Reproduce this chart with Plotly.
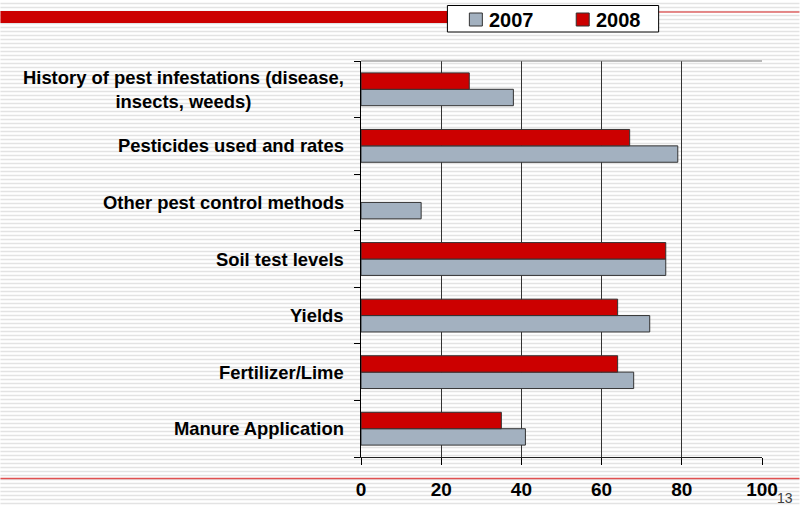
import plotly.graph_objects as go

# ---- data (bottom to top) ----
categories = [
    "Manure Application",
    "Fertilizer/Lime",
    "Yields",
    "Soil test levels",
    "Other pest control methods",
    "Pesticides used and rates",
    "History of pest infestations (disease,<br>insects, weeds)",
]
values_2007 = [41, 68, 72, 76, 15, 79, 38]
values_2008 = [35, 64, 64, 76, None, 67, 27]
series_names = ["2007", "2008"]
series_colors = ["#a3b1c0", "#cc0000"]
x_ticks = [0, 20, 40, 60, 80, 100]
page_number = "13"

W, H = 800, 507
L, R, T, B = 361, 37.5, 61, 50
plot_h = H - T - B


def py(ypx):
    """pixel row -> paper y"""
    return 1 + (T - ypx) / plot_h


def px(xpx):
    return (xpx - L) / (W - L - R)


FONT = "Liberation Sans, Arial, sans-serif"

fig = go.Figure()
for name, vals, col in zip(series_names, [values_2007, values_2008], series_colors):
    fig.add_trace(go.Bar(
        y=categories, x=vals, name=name, orientation="h",
        marker=dict(color=col, line=dict(color="#333333", width=1)),
    ))

# background stripes (slide template)
path = " ".join(
    f"M{px(0)},{py(y + 0.5)} L{px(W)},{py(y + 0.5)}" for y in range(3, H, 4)
)
shapes = [
    dict(type="path", xref="paper", yref="paper", path=path,
         line=dict(color="#e3e3e3", width=1.3), layer="below"),
    # thick red bar at top
    dict(type="rect", xref="paper", yref="paper",
         x0=px(0), x1=px(448), y0=py(23), y1=py(11),
         fillcolor="#cc0000", line=dict(width=0), layer="above"),
    # thin red line top right
    dict(type="line", xref="paper", yref="paper",
         x0=px(447), x1=px(W), y0=py(12), y1=py(12),
         line=dict(color="#e06666", width=1.3), layer="above"),
    # thin red line bottom
    dict(type="line", xref="paper", yref="paper",
         x0=px(0), x1=px(W), y0=py(478.5), y1=py(478.5),
         line=dict(color="#e05050", width=1.3), layer="above"),
    # top border of plot area (grey)
    dict(type="line", xref="paper", yref="paper",
         x0=0, x1=1, y0=1, y1=1,
         line=dict(color="#777777", width=1), layer="above"),
    # legend box
    dict(type="rect", xref="paper", yref="paper",
         x0=px(447.5), x1=px(659), y0=py(32), y1=py(5.5),
         fillcolor="#ffffff", line=dict(color="#000000", width=1), layer="above"),
]

annotations = [
    dict(x=0, y=c, xref="paper", yref="y", text=f"<b>{c}</b>",
         xanchor="right", yanchor="middle", align="center", xshift=-15,
         showarrow=False, font=dict(family=FONT, size=18.4, color="#000000"))
    for c in categories
]
annotations.append(dict(
    x=px(795), y=py(498), xref="paper", yref="paper", text=page_number,
    xanchor="right", yanchor="middle", showarrow=False, borderpad=0,
    font=dict(family=FONT, size=14, color="#404040")))

# legend built from the series lists
legend_sq_x = [469.5, 576.5]
for name, col, sx in zip(series_names, series_colors, legend_sq_x):
    shapes.append(dict(type="rect", xref="paper", yref="paper",
                       x0=px(sx), x1=px(sx + 13), y0=py(26), y1=py(13),
                       fillcolor=col, line=dict(color="#333333", width=1),
                       layer="above"))
    annotations.append(dict(
        x=px(sx + 18), y=py(20), xref="paper", yref="paper",
        text=f"<b>{name}</b>", xanchor="left", yanchor="middle",
        showarrow=False, font=dict(family=FONT, size=20, color="#000000")))

fig.update_layout(
    width=W, height=H,
    margin=dict(l=L, r=R, t=T, b=B, pad=0, autoexpand=False),
    paper_bgcolor="#ffffff",
    plot_bgcolor="rgba(0,0,0,0)",
    barmode="group", bargap=0.42, bargroupgap=0,
    font=dict(family=FONT, color="#000000"),
    shapes=shapes,
    annotations=annotations,
    showlegend=False,
    xaxis=dict(
        range=[0, 100], tickvals=x_ticks, ticktext=[f"<b>{v}</b>" for v in x_ticks],
        showgrid=True, gridcolor="#333333", gridwidth=1,
        zeroline=False, showline=True, linecolor="#222222", linewidth=1,
        mirror=False, ticks="outside", ticklen=7, tickcolor="#000000",
        tickfont=dict(family=FONT, size=19, color="#000000"),
        ticklabelstandoff=8, fixedrange=True,
    ),
    yaxis=dict(
        type="category", categoryorder="array", categoryarray=categories,
        showticklabels=False, tickson="boundaries", ticks="outside",
        ticklen=6, tickcolor="#000000", showgrid=False, zeroline=False,
        showline=True, linecolor="#000000", linewidth=1, fixedrange=True,
    ),
)

fig.write_html("out.html", post_script="document.body.style.margin='0';",
               config={"displayModeBar": False})
